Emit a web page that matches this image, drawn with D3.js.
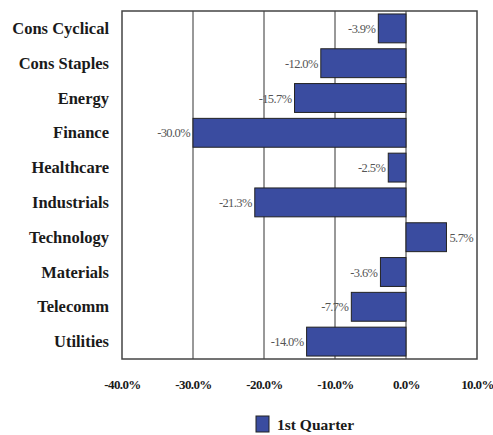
<!DOCTYPE html>
<html>
<head>
<script src="https://cdn.jsdelivr.net/npm/d3@7"></script>
</head>
<body style="margin:0">
<script>
// Sector returns, first quarter (%)
const sectors = ["Cons Cyclical", "Cons Staples", "Energy", "Finance", "Healthcare",
                 "Industrials", "Technology", "Materials", "Telecomm", "Utilities"];
const q1Returns = [-3.9, -12.0, -15.7, -30.0, -2.5, -21.3, 5.7, -3.6, -7.7, -14.0];
const xTicks = [-40, -30, -20, -10, 0, 10];
const seriesName = "1st Quarter";

const W = 493, H = 435;
const plot = { left: 122, right: 477, top: 11, bottom: 359 };
const barFill = "#3a4ca0";
const serif = "'Liberation Serif'";

const svg = d3.select("body").append("svg").attr("width", W).attr("height", H)
  .style("display", "block");

const x = d3.scaleLinear().domain([-40, 10]).range([plot.left, plot.right]);
const y = d3.scaleBand().domain(sectors).range([plot.top, plot.bottom]).paddingInner(0.17).paddingOuter(0.085);

const rows = sectors.map((s, i) => ({ s, v: q1Returns[i] }));

// vertical gridlines
svg.append("g").selectAll("line")
  .data(xTicks.filter(t => t > -40 && t < 10))
  .join("line")
  .attr("x1", d => x(d)).attr("x2", d => x(d))
  .attr("y1", plot.top).attr("y2", plot.bottom)
  .attr("stroke", "#333").attr("stroke-width", 1);

// bars
svg.append("g").selectAll("rect")
  .data(rows)
  .join("rect")
  .attr("x", d => x(Math.min(0, d.v)))
  .attr("width", d => Math.abs(x(d.v) - x(0)))
  .attr("y", d => y(d.s))
  .attr("height", y.bandwidth())
  .attr("fill", barFill)
  .attr("stroke", "#222").attr("stroke-width", 1);

// plot frame
svg.append("rect")
  .attr("x", plot.left).attr("y", plot.top)
  .attr("width", plot.right - plot.left).attr("height", plot.bottom - plot.top)
  .attr("fill", "none").attr("stroke", "#444").attr("stroke-width", 1.5);

// value labels
svg.selectAll("text.val")
  .data(rows)
  .join("text")
  .attr("class", "val")
  .attr("font-family", serif).attr("font-size", 12.5).attr("fill", "#555")
  .attr("letter-spacing", -0.6)
  .attr("x", d => d.v < 0 ? x(d.v) - 3 : x(d.v) + 3)
  .attr("y", d => y(d.s) + y.bandwidth() / 2 + 4.5)
  .attr("text-anchor", d => d.v < 0 ? "end" : "start")
  .text(d => d.v.toFixed(1) + "%");

// category labels
svg.selectAll("text.cat")
  .data(sectors)
  .join("text")
  .attr("class", "cat")
  .attr("font-family", serif).attr("font-weight", "bold").attr("font-size", 16.5).attr("fill", "#1a1a1a")
  .attr("x", 109)
  .attr("y", d => y(d) + y.bandwidth() / 2 + 5.5)
  .attr("text-anchor", "end")
  .text(d => d);

// x axis labels
const xAxis = d3.axisBottom(x).tickValues(xTicks).tickSize(0).tickPadding(0)
  .tickFormat(d => d.toFixed(1) + "%");
svg.append("g")
  .attr("transform", `translate(0,${plot.bottom + 21})`)
  .call(xAxis)
  .attr("font-family", serif).attr("font-size", 13).attr("font-weight", "bold")
  .call(g => g.select(".domain").remove())
  .call(g => g.selectAll("text")
    .attr("font-family", serif).attr("fill", "#1a1a1a").attr("letter-spacing", -0.6));

// legend
const lg = svg.append("g").attr("transform", "translate(256,416)");
lg.append("rect").attr("width", 13).attr("height", 16)
  .attr("fill", barFill).attr("stroke", "#222").attr("stroke-width", 1);
lg.append("text").attr("font-family", serif).attr("font-weight", "bold").attr("font-size", 15.5)
  .attr("fill", "#1a1a1a")
  .attr("x", 21).attr("y", 13.5).text(seriesName);
</script>
</body>
</html>
